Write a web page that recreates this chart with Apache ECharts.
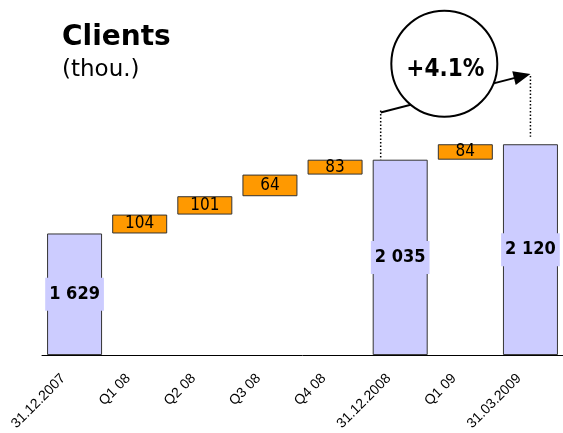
<!DOCTYPE html>
<html><head><meta charset="utf-8">
<script src="https://cdn.jsdelivr.net/npm/echarts@6/dist/echarts.min.js"></script>
<style>html,body{margin:0;padding:0;background:#fff}#c{width:563px;height:433px}</style>
</head><body><div id="c"></div>
<script>
const categories = ['31.12.2007','Q1 08','Q2 08','Q3 08','Q4 08','31.12.2008','Q1 09','31.03.2009'];
const totalValues = [1629, null, null, null, null, 2035, null, 2120];
const changeValues = [null, 104, 101, 64, 83, null, 84, null];
// drawn top level of each floating step
const stepTops = [null, 1733, 1834, 1953, 2035, null, 2120, null];
const growthLabel = '+4.1%';
const titleText = 'Clients';
const unitText = '(thou.)';

const Y_MIN = 960, Y_MAX = 2600;
const fmt = v => String(v).replace(/\B(?=(\d{3})+(?!\d))/g, ' ');

// pick a condensed Verdana-like face if it is installed
const ctx = document.createElement('canvas').getContext('2d');
ctx.font = '40px "DejaVu Sans Condensed", monospace';
const wc = ctx.measureText('0000').width;
ctx.font = '40px monospace';
const wm = ctx.measureText('0000').width;
const hasCond = Math.abs(wc - wm) > 0.5;
const COND = hasCond ? 'DejaVu Sans Condensed' : 'DejaVu Sans';
const k = hasCond ? 1 : 0.9;

const lows = [], highs = [];
let level = null;
categories.forEach((c, i) => {
  if (totalValues[i] != null) { lows.push(Y_MIN); highs.push(totalValues[i]); level = totalValues[i]; }
  else { lows.push(level); highs.push(stepTops[i]); level = stepTops[i]; }
});

const visibleData = categories.map((c, i) => {
  const isTotal = totalValues[i] != null;
  return {
    value: highs[i] - lows[i],
    itemStyle: { color: isTotal ? '#CCCCFF' : '#FF9900', borderColor: '#333', borderWidth: 1 },
    label: isTotal ? {
      show: true, position: 'inside', formatter: fmt(totalValues[i]),
      fontFamily: COND, fontWeight: 'bold', fontSize: Math.round(18 * k), color: '#000',
      backgroundColor: '#CCCCFF', padding: [8, 4, 7, 4]
    } : {
      show: true, position: 'inside', formatter: String(changeValues[i]),
      fontFamily: COND, fontSize: Math.round(17 * k), color: '#000'
    }
  };
});

const chart = echarts.init(document.getElementById('c'), null, { renderer: 'canvas' });
chart.setOption({
  animation: false,
  backgroundColor: '#fff',
  title: {
    text: titleText, subtext: unitText, left: 57, top: 19, itemGap: 7,
    textStyle: { fontFamily: 'DejaVu Sans', fontWeight: 'bold', fontSize: 28, color: '#000' },
    subtextStyle: { fontFamily: 'DejaVu Sans', fontSize: 23, color: '#000' }
  },
  grid: { left: 42, right: 0, top: 57, bottom: 77, containLabel: false },
  xAxis: {
    type: 'category', data: categories,
    axisLine: { lineStyle: { color: '#000', width: 1 } },
    axisTick: { length: 4, lineStyle: { color: '#000' } },
    axisLabel: { interval: 0, rotate: 45, margin: 10, padding: [0, 16, 0, 0],
      fontFamily: 'Liberation Sans', fontSize: 14, color: '#000' }
  },
  yAxis: { type: 'value', min: Y_MIN, max: Y_MAX, show: false, splitLine: { show: false } },
  series: [
    { type: 'bar', stack: 'w', data: lows, barWidth: 55, silent: true,
      itemStyle: { color: 'rgba(0,0,0,0)' }, label: { show: false } },
    { type: 'bar', stack: 'w', data: visibleData, barWidth: 55 }
  ]
});

// annotation: growth circle and arrow, positioned through the chart's scales
const px = (ci, v) => chart.convertToPixel({ gridIndex: 0 }, [ci, v]);
const leftTop = px(5, 2295), leftBottom = px(5, totalValues[5]);
const xl = leftTop[0] - 19.5;
const tip = px(7, 2507);
const rightLineTop = px(7, 2496), rightLineBottom = px(7, 2161);
const cc = px(6, 2563);
const cx = cc[0] - 21, cy = cc[1];
const dx = tip[0] - xl, dy = tip[1] - leftTop[1];
const len = Math.hypot(dx, dy), ux = dx / len, uy = dy / len;
const hl = 17, hw = 7;
const bx = tip[0] - ux * hl, by = tip[1] - uy * hl;
chart.setOption({
  graphic: [
    { type: 'line', shape: { x1: xl, y1: leftTop[1] - 2, x2: xl, y2: leftBottom[1] },
      style: { stroke: '#000', lineWidth: 1.5, lineDash: [1.5, 2] } },
    { type: 'line', shape: { x1: tip[0], y1: rightLineTop[1], x2: tip[0], y2: rightLineBottom[1] },
      style: { stroke: '#000', lineWidth: 1.5, lineDash: [1.5, 2] } },
    { type: 'line', shape: { x1: xl, y1: leftTop[1], x2: bx + ux * 2, y2: by + uy * 2 },
      style: { stroke: '#000', lineWidth: 2 } },
    { type: 'polygon', shape: { points: [[tip[0], tip[1]], [bx - uy * hw, by + ux * hw], [bx + uy * hw, by - ux * hw]] },
      style: { fill: '#000' } },
    { type: 'circle', shape: { cx: cx, cy: cy, r: 53 }, style: { fill: '#fff', stroke: '#000', lineWidth: 2 } },
    { type: 'text', x: cx + 1, y: cy + 6,
      style: { text: growthLabel, fontFamily: COND, fontWeight: 'bold', fontSize: Math.round(24 * k),
        fill: '#000', align: 'center', verticalAlign: 'middle' } }
  ]
});
</script></body></html>
